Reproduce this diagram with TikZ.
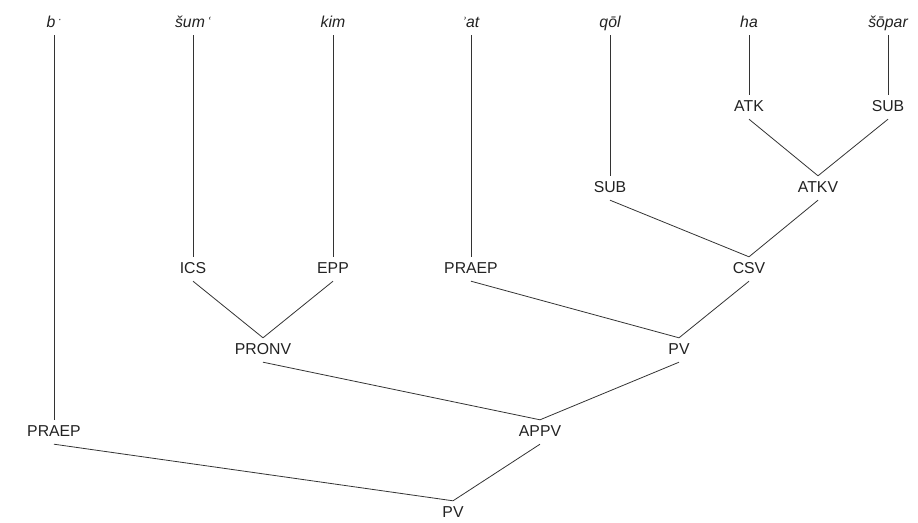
\documentclass[tikz,border=0pt]{standalone}
\usepackage{fontspec}
\setmainfont{Liberation Sans}
\newfontfamily\djv{DejaVu Sans}
\definecolor{txt}{HTML}{222222}
\definecolor{ln}{HTML}{333333}
\begin{document}
\begin{tikzpicture}[x=1pt,y=-1pt,
  lab/.style={text=txt,font=\fontsize{15.8}{18}\selectfont,inner xsep=0pt,inner ysep=5.5pt,
    text height=11pt,text depth=2pt},
  wrd/.style={lab,font=\fontsize{15.8}{18}\selectfont\itshape},
  edge/.style={draw=ln,line width=0.8pt}]
\useasboundingbox (0,0) rectangle (918,522);
% words
\node[wrd] (w1) at (54,23) {b\,\raisebox{4pt}{\fontsize{10}{10}\selectfont\djv\char"00B7}};
\node[wrd] (w2) at (193,23) {šum\,\raisebox{2pt}{\fontsize{11}{11}\selectfont\djv\char"02BF}};
\node[wrd] (w3) at (333,23) {kim};
\node[wrd] (w4) at (471,23) {\raisebox{2pt}{\fontsize{11}{11}\selectfont\djv\char"02BE}at};
\node[wrd] (w5) at (610,23) {qōl};
\node[wrd] (w6) at (749,23) {ha};
\node[wrd] (w7) at (888,23) {šōpar};
% categories
\node[lab] (atk) at (749,107) {ATK};
\node[lab] (sub2) at (888,107) {SUB};
\node[lab] (sub1) at (610,188) {SUB};
\node[lab] (atkv) at (818,188) {ATKV};
\node[lab] (ics) at (193,269) {ICS};
\node[lab] (epp) at (333,269) {EPP};
\node[lab] (praep2) at (471,269) {PRAEP};
\node[lab] (csv) at (749,269) {CSV};
\node[lab] (pronv) at (263,350) {PRONV};
\node[lab] (pv1) at (679,350) {PV};
\node[lab] (praep1) at (54,432) {PRAEP};
\node[lab] (appv) at (540,432) {APPV};
\node[lab] (pv2) at (453,513) {PV};
% edges
\foreach \c/\p in {w1/praep1,w2/ics,w3/epp,w4/praep2,w5/sub1,w6/atk,w7/sub2,
  atk/atkv,sub2/atkv,sub1/csv,atkv/csv,praep2/pv1,csv/pv1,ics/pronv,epp/pronv,
  pronv/appv,pv1/appv,praep1/pv2,appv/pv2}
  \draw[edge] (\c.south) -- (\p.north);
\end{tikzpicture}
\end{document}
